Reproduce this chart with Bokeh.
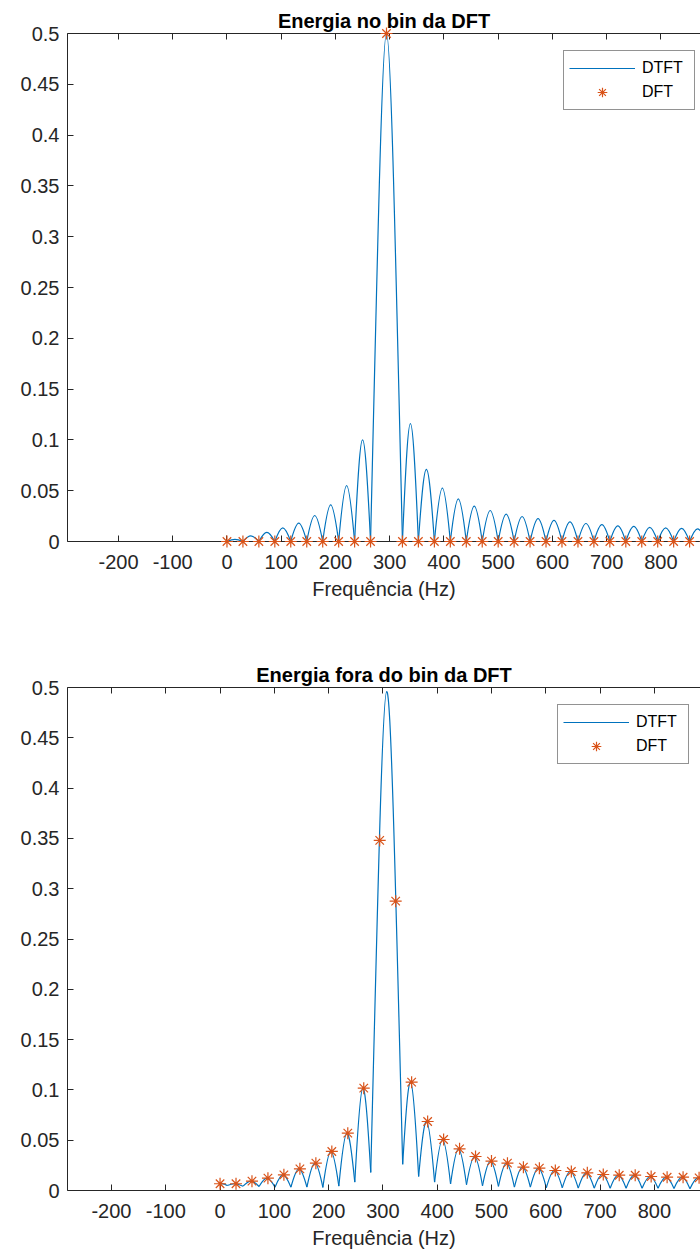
import numpy as np
from bokeh.plotting import figure
from bokeh.layouts import column
from bokeh.models import (LinearAxis, FixedTicker, Legend, LegendItem, Range1d,
                          ColumnDataSource)
from bokeh.embed import file_html
from bokeh.resources import INLINE

# ---------------- data ----------------
bin_freq = [0.0, 29.4, 58.8, 88.2, 117.6, 147.1, 176.5, 205.9, 235.3, 264.7,
            294.1, 323.5, 352.9, 382.4, 411.8, 441.2, 470.6, 500.0, 529.4, 558.8,
            588.2, 617.6, 647.1, 676.5, 705.9, 735.3, 764.7, 794.1, 823.5, 852.9,
            882.4]

# top chart: signal exactly on a DFT bin
top_dft = [0, 0, 0, 0, 0, 0, 0, 0, 0, 0,
           0.5, 0, 0, 0, 0, 0, 0, 0, 0, 0,
           0, 0, 0, 0, 0, 0, 0, 0, 0, 0,
           0]
top_null_freq = [0.0, 29.4, 58.8, 88.2, 117.6, 147.1, 176.5, 205.9, 235.3, 264.7,
                 323.5, 352.9, 382.4, 411.8, 441.2, 470.6, 500.0, 529.4, 558.8,
                 588.2, 617.6, 647.1, 676.5, 705.9, 735.3, 764.7, 794.1, 823.5,
                 852.9, 882.4]
top_null_val = [0, 0, 0, 0, 0, 0, 0, 0, 0, 0,
                0, 0, 0, 0, 0, 0, 0, 0, 0, 0,
                0, 0, 0, 0, 0, 0, 0, 0, 0, 0]
top_lobe_peak = [0.002, 0.0056, 0.009, 0.0135, 0.018, 0.0256, 0.036, 0.055, 0.100,
                 0.5,
                 0.116, 0.071, 0.0525, 0.042, 0.0348, 0.0305, 0.0269, 0.0246,
                 0.0226, 0.0207, 0.0194, 0.0177, 0.0167, 0.0154, 0.0148, 0.014,
                 0.0135, 0.013, 0.0125]

# bottom chart: signal between two DFT bins
bot_dft = [0.0067, 0.0067, 0.0093, 0.0123, 0.0156, 0.0215, 0.0272, 0.0388, 0.057,
           0.1017, 0.348, 0.2876, 0.1077, 0.0686, 0.0507, 0.0414, 0.0338, 0.0292,
           0.0272, 0.0232, 0.0222, 0.0199, 0.0189, 0.0176, 0.0159, 0.0152, 0.0152,
           0.0139, 0.0132, 0.0132, 0.0126]
bot_min_freq = [0.0, 13.0, 42.4, 71.8, 101.2, 130.6, 160.0, 189.4, 218.8, 248.2,
                277.6, 336.4, 365.8, 395.2, 424.6, 454.0, 483.4, 512.8, 542.2,
                571.6, 601.0, 630.4, 659.8, 689.2, 718.6, 748.0, 777.4, 806.8,
                836.2, 865.6, 895.0]
bot_min_val = [0.0067, 0.005, 0.0043, 0.004, 0.0033, 0.0033, 0.0033, 0.003, 0.0043,
               0.0083, 0.018, 0.026, 0.0139, 0.0083, 0.0066, 0.0057, 0.0047, 0.004,
               0.0033, 0.0033, 0.0027, 0.0027, 0.0023, 0.0023, 0.0023, 0.0023,
               0.0023, 0.0023, 0.002, 0.0017, 0.0017]
bot_lobe_peak = [0.0068, 0.0067, 0.0093, 0.0123, 0.0156, 0.0215, 0.0272, 0.0388,
                 0.057, 0.1017, 0.496, 0.1077, 0.0686, 0.0507, 0.0414, 0.0338,
                 0.0292, 0.0272, 0.0232, 0.0222, 0.0199, 0.0189, 0.0176, 0.0159,
                 0.0152, 0.0152, 0.0139, 0.0132, 0.0132, 0.0126]

x_ticks = [-200, -100, 0, 100, 200, 300, 400, 500, 600, 700, 800]
x_tick_labels = ["-200", "-100", "0", "100", "200", "300", "400", "500", "600",
                 "700", "800"]
y_ticks = [0, 0.05, 0.1, 0.15, 0.2, 0.25, 0.3, 0.35, 0.4, 0.45, 0.5]
y_tick_labels = ["0", "0.05", "0.1", "0.15", "0.2", "0.25", "0.3", "0.35", "0.4",
                 "0.45", "0.5"]

# ---------------- styling ----------------
FONT = "Liberation Sans"
AX = "#262626"
BLUE = "#0072BD"
ORANGE = "#D95319"


def lobe_source(xs, ys, peaks):
    """Each lobe of the DTFT drawn as a cubic Bezier between two minima."""
    x0 = np.array(xs[:-1], float)
    x1 = np.array(xs[1:], float)
    y0 = np.array(ys[:-1], float)
    y1 = np.array(ys[1:], float)
    h = np.array(peaks, float)
    w = x1 - x0
    a = np.where(w > 40, 0.5, 0.42)
    cy = (h - (y0 + y1) / 8.0) / 0.75
    return ColumnDataSource(dict(x0=x0, y0=y0, x1=x1, y1=y1,
                                 cx0=x0 + a * w, cy0=cy, cx1=x1 - a * w, cy1=cy))


def style_axis(ax):
    ax.axis_line_color = AX
    ax.axis_line_width = 1
    ax.major_tick_line_color = AX
    ax.major_tick_in = 6
    ax.major_tick_out = 0
    ax.minor_tick_line_color = None
    ax.major_label_text_color = AX
    ax.major_label_text_font = FONT
    ax.major_label_text_font_size = "20px"


def make_fig(title, xr, height, b_left, b_top, b_bottom, null_f, null_v, peaks,
             dft, legend_xy):
    p = figure(width=700, height=height, x_range=Range1d(*xr),
               y_range=Range1d(0, 0.5), output_backend="svg",
               toolbar_location=None, min_border_left=b_left, min_border_right=0,
               min_border_top=b_top, min_border_bottom=b_bottom, title=title)
    p.outline_line_color = None
    p.background_fill_color = "white"
    p.border_fill_color = "white"
    p.xgrid.visible = False
    p.ygrid.visible = False

    p.title.text_font = FONT
    p.title.text_font_size = "20px"
    p.title.text_font_style = "bold"
    p.title.text_color = "#000000"
    p.title.align = "center"
    p.title.standoff = 4

    xa = p.xaxis[0]
    style_axis(xa)
    xa.ticker = FixedTicker(ticks=x_ticks)
    xa.major_label_overrides = dict(zip(x_ticks, x_tick_labels))
    xa.major_label_standoff = 13
    xa.axis_label = "Frequência (Hz)"
    xa.axis_label_text_font = FONT
    xa.axis_label_text_font_size = "20px"
    xa.axis_label_text_font_style = "normal"
    xa.axis_label_text_color = AX
    xa.axis_label_standoff = 6

    ya = p.yaxis[0]
    style_axis(ya)
    ya.ticker = FixedTicker(ticks=y_ticks)
    ya.major_label_overrides = dict(zip(y_ticks, y_tick_labels))
    ya.major_label_standoff = 8

    # box line on top with inward ticks (no labels drawn)
    top = LinearAxis(ticker=FixedTicker(ticks=x_ticks))
    style_axis(top)
    top.major_label_text_font_size = "1px"
    top.major_label_text_color = None
    top.major_label_standoff = 0
    p.add_layout(top, "above")

    r_line = p.bezier(x0="x0", y0="y0", x1="x1", y1="y1", cx0="cx0", cy0="cy0",
                      cx1="cx1", cy1="cy1", source=lobe_source(null_f, null_v, peaks),
                      line_color=BLUE, line_width=1.2)
    r_pts = p.scatter(bin_freq, dft, marker="asterisk", size=12,
                      line_color=ORANGE, line_width=1.2, level="overlay")

    leg = Legend(items=[LegendItem(label="DTFT", renderers=[r_line]),
                        LegendItem(label="DFT", renderers=[r_pts])],
                 location=legend_xy)
    leg.label_text_font = FONT
    leg.label_text_font_size = "16px"
    leg.label_text_color = "#000000"
    leg.border_line_color = AX
    leg.border_line_width = 1
    leg.background_fill_color = "white"
    leg.background_fill_alpha = 1
    leg.padding = 5
    leg.spacing = 0
    leg.margin = 0
    leg.glyph_width = 66
    leg.glyph_height = 24
    leg.label_height = 20
    leg.label_width = 47
    leg.label_standoff = 7
    p.add_layout(leg)
    return p


p1 = make_fig("Energia no bin da DFT", (-294, 873), 620, 61, 33, 79,
              top_null_freq, top_null_val, top_lobe_peak, top_dft, (496, 431))
p2 = make_fig("Energia fora do bin da DFT", (-281, 885), 631, 67, 67, 61,
              bot_min_freq, bot_min_val, bot_lobe_peak, bot_dft, (490, 426))

layout = column(p1, p2, spacing=0)
open("out.html", "w").write(file_html(layout, INLINE))
